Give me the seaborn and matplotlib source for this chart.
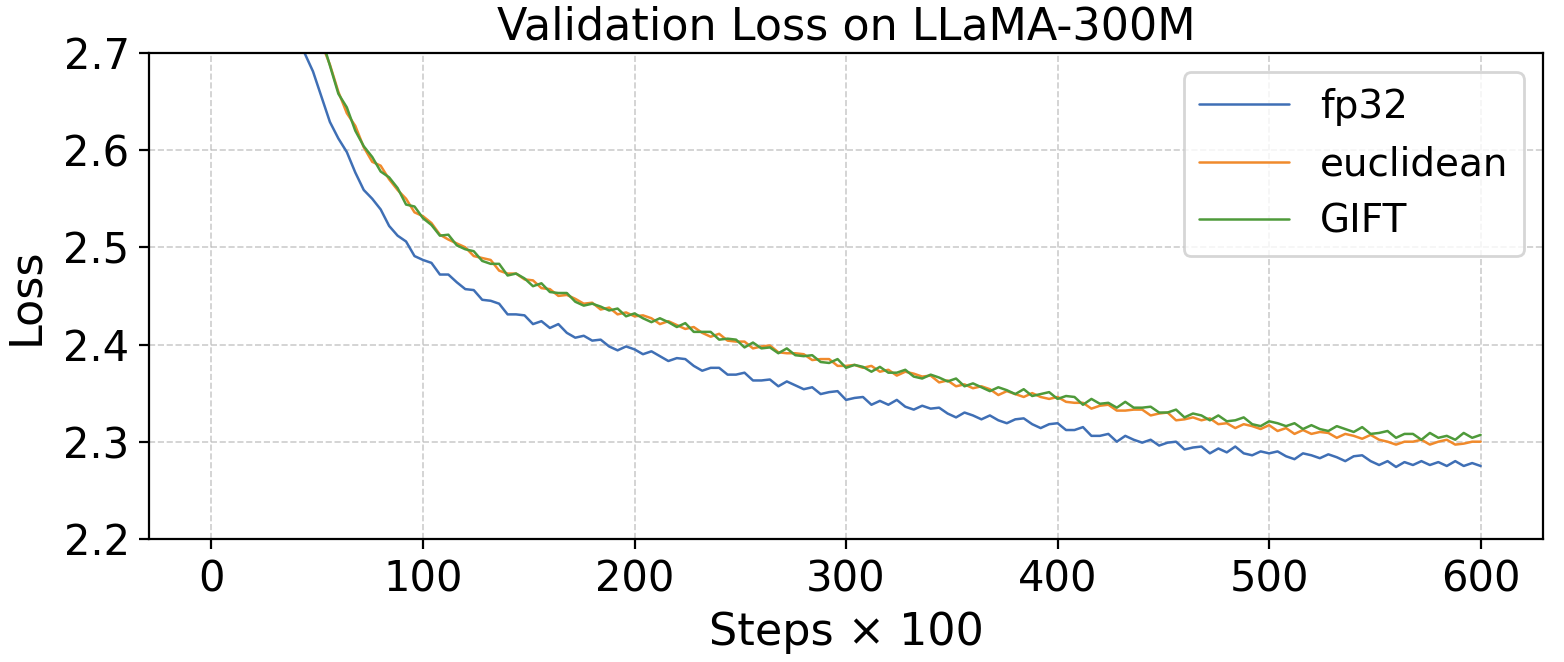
import matplotlib
matplotlib.use("Agg")
import numpy as np
import pandas as pd
import seaborn as sns
import matplotlib.pyplot as plt

steps = list(range(0, 601, 4))

fp32 = [
    9.80, 7.20, 5.60, 4.50, 3.80, 3.35, 3.08, 2.92, 2.83, 2.77,
    2.729, 2.700, 2.681, 2.655, 2.629, 2.612, 2.598, 2.577, 2.559, 2.550,
    2.539, 2.522, 2.512, 2.506, 2.491, 2.487, 2.484, 2.472, 2.472, 2.464,
    2.457, 2.456, 2.446, 2.445, 2.442, 2.431, 2.431, 2.430, 2.421, 2.424,
    2.417, 2.421, 2.412, 2.407, 2.409, 2.404, 2.405, 2.398, 2.394, 2.398,
    2.395, 2.390, 2.393, 2.388, 2.383, 2.386, 2.385, 2.378, 2.373, 2.376,
    2.376, 2.369, 2.369, 2.371, 2.363, 2.363, 2.364, 2.357, 2.362, 2.358,
    2.354, 2.356, 2.349, 2.351, 2.352, 2.343, 2.345, 2.346, 2.338, 2.342,
    2.338, 2.343, 2.336, 2.333, 2.337, 2.334, 2.335, 2.329, 2.325, 2.330,
    2.327, 2.323, 2.327, 2.322, 2.319, 2.323, 2.324, 2.318, 2.314, 2.318,
    2.319, 2.312, 2.312, 2.315, 2.306, 2.306, 2.308, 2.300, 2.306, 2.302,
    2.299, 2.302, 2.296, 2.299, 2.300, 2.292, 2.294, 2.295, 2.288, 2.293,
    2.289, 2.295, 2.288, 2.286, 2.290, 2.288, 2.290, 2.285, 2.282, 2.288,
    2.286, 2.283, 2.287, 2.284, 2.280, 2.285, 2.286, 2.280, 2.276, 2.280,
    2.274, 2.279, 2.276, 2.280, 2.276, 2.279, 2.275, 2.280, 2.275, 2.278,
    2.275,
]

euclidean = [
    10.3, 7.9, 6.3, 5.05, 4.25, 3.68, 3.32, 3.09, 2.96, 2.875,
    2.809, 2.777, 2.746, 2.710, 2.688, 2.660, 2.638, 2.625, 2.603, 2.588,
    2.584, 2.570, 2.559, 2.550, 2.536, 2.532, 2.525, 2.513, 2.508, 2.504,
    2.500, 2.491, 2.489, 2.487, 2.476, 2.473, 2.473, 2.467, 2.466, 2.458,
    2.457, 2.450, 2.451, 2.447, 2.442, 2.443, 2.436, 2.438, 2.431, 2.433,
    2.429, 2.430, 2.427, 2.421, 2.424, 2.420, 2.416, 2.418, 2.412, 2.408,
    2.411, 2.404, 2.403, 2.403, 2.396, 2.398, 2.399, 2.392, 2.391, 2.391,
    2.390, 2.384, 2.385, 2.385, 2.378, 2.378, 2.379, 2.376, 2.378, 2.372,
    2.374, 2.368, 2.372, 2.370, 2.367, 2.368, 2.361, 2.363, 2.357, 2.359,
    2.355, 2.357, 2.354, 2.348, 2.352, 2.349, 2.346, 2.350, 2.346, 2.344,
    2.346, 2.341, 2.340, 2.340, 2.334, 2.337, 2.338, 2.332, 2.332, 2.333,
    2.333, 2.327, 2.329, 2.330, 2.322, 2.323, 2.325, 2.322, 2.324, 2.318,
    2.319, 2.314, 2.318, 2.316, 2.313, 2.317, 2.311, 2.314, 2.308, 2.312,
    2.308, 2.310, 2.309, 2.304, 2.308, 2.306, 2.303, 2.307, 2.302, 2.300,
    2.297, 2.300, 2.300, 2.302, 2.297, 2.300, 2.302, 2.297, 2.298, 2.300,
    2.300,
]

gift = [
    10.2, 7.8, 6.2, 5.0, 4.2, 3.65, 3.30, 3.08, 2.95, 2.87,
    2.812, 2.774, 2.742, 2.716, 2.687, 2.658, 2.644, 2.620, 2.604, 2.593,
    2.578, 2.572, 2.561, 2.544, 2.542, 2.530, 2.523, 2.512, 2.513, 2.502,
    2.498, 2.496, 2.486, 2.483, 2.483, 2.471, 2.473, 2.468, 2.460, 2.463,
    2.454, 2.453, 2.453, 2.444, 2.440, 2.442, 2.439, 2.435, 2.437, 2.429,
    2.432, 2.427, 2.423, 2.427, 2.423, 2.418, 2.422, 2.413, 2.413, 2.413,
    2.405, 2.406, 2.405, 2.397, 2.402, 2.396, 2.397, 2.391, 2.396, 2.389,
    2.388, 2.389, 2.382, 2.381, 2.385, 2.376, 2.379, 2.377, 2.372, 2.377,
    2.371, 2.371, 2.374, 2.367, 2.365, 2.369, 2.366, 2.362, 2.365, 2.357,
    2.360, 2.356, 2.352, 2.356, 2.353, 2.349, 2.354, 2.347, 2.349, 2.351,
    2.344, 2.347, 2.346, 2.338, 2.344, 2.339, 2.340, 2.335, 2.341, 2.335,
    2.335, 2.336, 2.330, 2.330, 2.333, 2.325, 2.329, 2.327, 2.322, 2.327,
    2.321, 2.322, 2.325, 2.318, 2.316, 2.321, 2.319, 2.316, 2.319, 2.313,
    2.317, 2.313, 2.311, 2.316, 2.313, 2.310, 2.315, 2.308, 2.309, 2.311,
    2.304, 2.308, 2.308, 2.302, 2.309, 2.304, 2.306, 2.302, 2.309, 2.304,
    2.307,
]

series_names = ["fp32", "euclidean", "GIFT"]
series_colors = ["#3f6fb5", "#f08a2c", "#4e9a3a"]
x_ticks = [0, 100, 200, 300, 400, 500, 600]
y_ticks = [2.2, 2.3, 2.4, 2.5, 2.6, 2.7]
y_tick_labels = ["2.2", "2.3", "2.4", "2.5", "2.6", "2.7"]

# ---- build long table ----
df = pd.concat([
    pd.DataFrame({"step": steps, "loss": vals, "method": name})
    for name, vals in zip(series_names, [fp32, euclidean, gift])
], ignore_index=True)

sns.set_style("ticks")
plt.rcParams["font.family"] = ["DejaVu Sans"]
plt.rcParams["text.color"] = "black"
plt.rcParams["axes.labelcolor"] = "black"
plt.rcParams["xtick.color"] = "black"
plt.rcParams["ytick.color"] = "black"

fig, ax = plt.subplots(figsize=(7.82, 3.31), dpi=200)
fig.subplots_adjust(left=0.0953, right=0.9866, top=0.920, bottom=0.186)

sns.lineplot(data=df, x="step", y="loss", hue="method", hue_order=series_names,
             palette=dict(zip(series_names, series_colors)), linewidth=0.9,
             ax=ax, legend=True)

ax.set_xlim(-29.5, 629.5)
ax.set_ylim(2.2, 2.7)
ax.set_xticks(x_ticks)
ax.set_yticks(y_ticks)
ax.set_yticklabels(y_tick_labels)
ax.grid(True, linestyle="--", color="#b8b8b8", alpha=0.7, linewidth=0.6)
ax.set_axisbelow(True)

for sp in ax.spines.values():
    sp.set_visible(True)
    sp.set_color("black")
    sp.set_linewidth(0.8)
ax.tick_params(axis="both", labelsize=15, length=3.5, width=0.8,
               direction="out", color="black", labelcolor="black")

ax.set_title("Validation Loss on LLaMA-300M", fontsize=16, pad=5, color="black")
ax.set_xlabel("Steps \u00d7 100", fontsize=16, labelpad=4, color="black")
ax.set_ylabel("Loss", fontsize=16, labelpad=6, color="black")

leg = ax.legend(loc="upper right", fontsize=14, frameon=True, fancybox=True,
                handlelength=2.3, edgecolor="#cccccc", framealpha=0.8,
                borderaxespad=0.5, labelspacing=0.5)
for line in leg.get_lines():
    line.set_linewidth(0.9)
for t in leg.get_texts():
    t.set_color("black")

fig.savefig("out.png", dpi=200)
